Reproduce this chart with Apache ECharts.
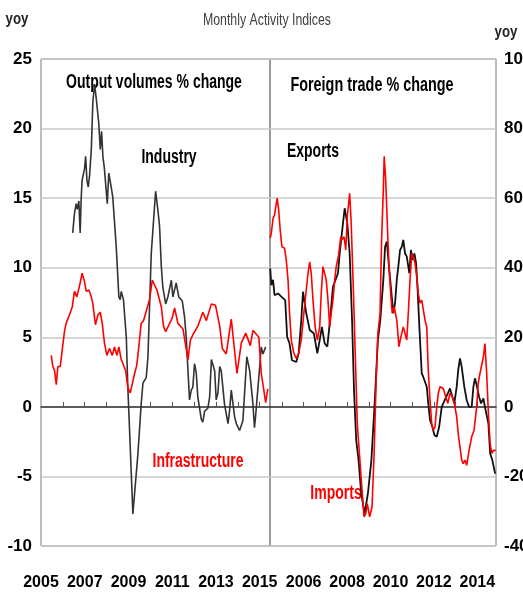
<!DOCTYPE html>
<html>
<head>
<meta charset="utf-8">
<script src="https://cdn.jsdelivr.net/npm/echarts@6/dist/echarts.min.js"></script>
<style>
  html, body { margin: 0; padding: 0; background: #fff; }
  #chart { width: 523px; height: 593px; }
</style>
</head>
<body>
<div id="chart"></div>
<script>
// Monthly activity indices: output volumes (left panel) and foreign trade (right panel), % yoy

// left panel - industry
const industryDates = [
  2006.45, 2006.53, 2006.61, 2006.66, 2006.73, 2006.79, 2006.84, 2006.88, 2006.99, 2007.04,
  2007.10, 2007.16, 2007.22, 2007.30, 2007.37, 2007.45, 2007.53, 2007.64, 2007.71, 2007.77,
  2007.83, 2007.90, 2007.95, 2008.03, 2008.10, 2008.21, 2008.28, 2008.44, 2008.56, 2008.62,
  2008.67, 2008.77, 2008.90, 2008.97, 2009.05, 2009.20, 2009.43, 2009.58, 2009.66, 2009.81,
  2009.89, 2010.04, 2010.24, 2010.34, 2010.42, 2010.50, 2010.57, 2010.70, 2010.80, 2010.96,
  2011.03, 2011.18, 2011.30, 2011.46, 2011.56, 2011.64, 2011.72, 2011.79, 2011.87, 2011.94,
  2012.02, 2012.10, 2012.17, 2012.33, 2012.40, 2012.48, 2012.63, 2012.71, 2012.79, 2012.94,
  2013.01, 2013.09, 2013.17, 2013.24, 2013.39, 2013.55, 2013.62, 2013.70, 2013.85, 2013.93,
  2014.08, 2014.16, 2014.23, 2014.41, 2014.54, 2014.69, 2014.76, 2014.81, 2014.92, 2015.00,
  2015.07, 2015.15, 2015.27
];
const industryValues = [
  12.5, 13.9, 14.6, 14.2, 14.8, 12.5, 15.1, 16.3, 17.1, 18.0,
  16.3, 15.8, 16.6, 18.5, 21.9, 23.2, 22.1, 20.4, 18.5, 19.8,
  18.0, 17.1, 17.0, 14.6, 16.8, 15.8, 15.1, 11.5, 7.9, 7.7,
  8.3, 7.7, 5.0, 1.4, -1.7, -7.7, -3.4, 0.2, 1.7, 2.1,
  3.6, 11.0, 15.5, 14.2, 13.0, 10.1, 8.6, 7.4, 7.9, 9.1,
  7.9, 8.9, 7.9, 7.6, 6.5, 5.0, 2.6, 0.5, 1.2, 1.4,
  3.1, 2.4, 0.7, -0.9, -1.1, -0.3, -0.1, 0.7, 3.4, 2.6,
  0.5, 1.0, 2.9, 2.6, 0.2, -1.2, -0.3, 1.2, -0.7, -1.2,
  -1.7, -1.7, -1.0, 3.6, 2.6, 0.2, -1.5, -0.7, 1.4, 2.9,
  4.3, 3.8, 4.3
];

// left panel - infrastructure
const infraDates = [
  2005.47, 2005.54, 2005.62, 2005.70, 2005.77, 2005.88, 2005.97, 2006.08, 2006.15, 2006.30,
  2006.43, 2006.53, 2006.64, 2006.73, 2006.79, 2006.88, 2006.99, 2007.07, 2007.19, 2007.30,
  2007.37, 2007.49, 2007.60, 2007.71, 2007.80, 2007.90, 2008.01, 2008.13, 2008.26, 2008.36,
  2008.47, 2008.56, 2008.67, 2008.87, 2008.97, 2009.08, 2009.28, 2009.38, 2009.47, 2009.58,
  2009.69, 2009.96, 2010.09, 2010.30, 2010.50, 2010.60, 2010.70, 2011.00, 2011.11, 2011.26,
  2011.49, 2011.72, 2011.83, 2011.95, 2012.17, 2012.40, 2012.56, 2012.79, 2012.98, 2013.17,
  2013.29, 2013.47, 2013.70, 2013.96, 2014.16, 2014.36, 2014.57, 2014.69, 2014.96, 2015.07,
  2015.18, 2015.27, 2015.37
];
const infraValues = [
  3.7, 2.9, 2.6, 1.6, 2.9, 2.9, 4.1, 5.5, 6.0, 6.6,
  7.2, 8.3, 7.9, 8.5, 8.9, 9.6, 9.0, 8.3, 8.4, 7.9,
  7.4, 5.9, 6.6, 6.8, 6.0, 4.6, 3.7, 4.2, 3.7, 4.3,
  3.7, 4.3, 3.4, 2.6, 1.4, 1.0, 2.4, 3.0, 4.3, 6.0,
  6.2, 7.7, 9.1, 8.4, 7.2, 5.8, 5.4, 6.4, 7.1, 6.0,
  5.6, 3.4, 4.8, 5.2, 5.8, 6.8, 6.2, 7.4, 7.3, 5.8,
  4.2, 3.8, 6.3, 2.4, 4.6, 5.3, 4.4, 5.5, 5.0, 2.4,
  1.3, 0.3, 1.3
];

// right panel - exports
const exportDates = [
  2004.46, 2004.51, 2004.59, 2004.66, 2004.82, 2004.97, 2005.15, 2005.24, 2005.35, 2005.46,
  2005.66, 2005.77, 2005.89, 2005.97, 2006.12, 2006.28, 2006.47, 2006.63, 2006.74, 2006.84,
  2006.97, 2007.09, 2007.20, 2007.35, 2007.58, 2007.66, 2007.76, 2007.89, 2008.01, 2008.12,
  2008.23, 2008.32, 2008.42, 2008.53, 2008.65, 2008.81, 2008.96, 2009.12, 2009.27, 2009.42,
  2009.53, 2009.67, 2009.75, 2009.83, 2009.93, 2010.06, 2010.13, 2010.21, 2010.29, 2010.36,
  2010.44, 2010.52, 2010.59, 2010.67, 2010.75, 2010.87, 2010.94, 2011.02, 2011.10, 2011.18,
  2011.25, 2011.33, 2011.44, 2011.51, 2011.67, 2011.74, 2011.82, 2011.93, 2012.02, 2012.13,
  2012.24, 2012.36, 2012.43, 2012.64, 2012.74, 2012.85, 2012.94, 2013.05, 2013.12, 2013.20,
  2013.28, 2013.40, 2013.51, 2013.62, 2013.74, 2013.82, 2013.89, 2013.97, 2014.08, 2014.17,
  2014.28, 2014.35, 2014.43, 2014.51, 2014.59, 2014.69, 2014.82
];
const exportValues = [
  39.8, 35.0, 36.5, 32.1, 32.6, 31.7, 30.7, 20.1, 18.2, 13.4,
  12.9, 15.4, 24.9, 33.1, 26.9, 22.1, 21.1, 15.4, 19.2, 23.0,
  18.2, 17.3, 24.0, 34.5, 38.4, 44.1, 49.9, 57.1, 52.8, 44.1,
  24.9, 4.8, -9.6, -15.3, -24.9, -30.7, -24.9, -15.3, 1.0, 19.2,
  24.9, 36.5, 46.0, 47.5, 40.3, 31.7, 26.9, 29.8, 36.5, 40.3,
  45.1, 46.0, 48.0, 44.1, 43.2, 38.4, 45.1, 42.2, 44.1, 41.3,
  33.6, 23.0, 9.6, 8.6, 5.8, 1.0, -3.8, -5.8, -8.1, -8.6,
  -5.8, 0.0, 1.0, 3.9, 5.3, 2.9, 1.0, 5.8, 10.6, 13.9,
  11.5, 5.8, 1.9, 0.0, 0.0, 5.8, 8.2, 6.2, 2.9, 1.0,
  2.4, 0.0, 0.0, -4.8, -13.4, -15.3, -19.2
];

// right panel - imports
const importDates = [
  2004.46, 2004.51, 2004.59, 2004.66, 2004.74, 2004.78, 2004.85, 2004.92, 2005.00, 2005.12,
  2005.20, 2005.28, 2005.35, 2005.43, 2005.55, 2005.66, 2005.77, 2005.89, 2006.01, 2006.12,
  2006.20, 2006.28, 2006.35, 2006.43, 2006.53, 2006.63, 2006.74, 2006.81, 2006.89, 2006.97,
  2007.04, 2007.12, 2007.20, 2007.27, 2007.35, 2007.43, 2007.50, 2007.61, 2007.71, 2007.76,
  2007.86, 2007.94, 2008.01, 2008.12, 2008.19, 2008.29, 2008.38, 2008.47, 2008.58, 2008.69,
  2008.78, 2008.86, 2008.93, 2009.04, 2009.15, 2009.24, 2009.35, 2009.42, 2009.52, 2009.59,
  2009.67, 2009.71, 2009.78, 2009.87, 2009.93, 2010.02, 2010.08, 2010.17, 2010.29, 2010.39,
  2010.48, 2010.59, 2010.75, 2010.82, 2010.90, 2010.98, 2011.05, 2011.13, 2011.21, 2011.28,
  2011.36, 2011.44, 2011.59, 2011.67, 2011.74, 2011.82, 2011.90, 2011.97, 2012.05, 2012.13,
  2012.20, 2012.28, 2012.36, 2012.43, 2012.64, 2012.74, 2012.85, 2012.94, 2013.05, 2013.12,
  2013.20, 2013.28, 2013.35, 2013.43, 2013.51, 2013.62, 2013.74, 2013.85, 2013.97, 2014.04,
  2014.12, 2014.20, 2014.28, 2014.35, 2014.43, 2014.51, 2014.59, 2014.67, 2014.74, 2014.85
];
const importValues = [
  48.5, 49.9, 54.2, 55.2, 58.5, 60.0, 56.6, 50.8, 46.0, 45.6,
  42.2, 36.5, 26.9, 19.2, 15.4, 13.9, 15.4, 19.2, 26.9, 33.6,
  38.4, 41.7, 38.4, 30.7, 23.0, 19.2, 23.0, 32.6, 40.3, 39.8,
  36.5, 30.7, 23.0, 26.9, 30.7, 36.5, 40.3, 43.7, 48.9, 48.0,
  48.9, 45.1, 54.8, 61.4, 52.8, 33.6, 14.4, -4.8, -14.4, -24.0,
  -31.6, -30.7, -27.8, -31.6, -28.8, -14.4, 9.6, 21.1, 26.9, 48.0,
  62.4, 72.0, 65.2, 49.9, 40.3, 31.7, 26.9, 28.8, 24.9, 17.3,
  20.1, 23.0, 19.2, 26.9, 36.5, 44.1, 43.2, 41.3, 37.4, 32.6,
  29.8, 30.7, 24.9, 23.0, 10.6, 1.9, -4.8, -6.7, -5.8, 0.0,
  3.9, 5.8, 6.2, 5.3, 1.0, 3.9, 2.9, 1.0, -2.9, -7.7,
  -11.5, -15.3, -16.3, -15.3, -16.8, -12.5, -8.6, -6.7, 0.0, 6.7,
  9.6, 10.1, 14.4, 18.2, 9.6, -1.9, -10.6, -13.4, -12.5, -12.5
];

// axis ticks and labels
const leftTickYears = [2006, 2007, 2008, 2009, 2010, 2011, 2012, 2013, 2014, 2015];
const leftLabelYears = [2005, 2007, 2009, 2011, 2013, 2015];
const rightTickYears = [2005, 2006, 2007, 2008, 2009, 2010, 2011, 2012, 2013, 2014];
const rightLabelYears = [2006, 2008, 2010, 2012, 2014];

const FONT = '"Liberation Sans", Arial, sans-serif';

function zip(xs, ys) {
  return xs.map((x, i) => [x, ys[i]]);
}

const chart = echarts.init(document.getElementById('chart'), null, { renderer: 'canvas' });

function tickAxis(grid, min, max, ticks) {
  return {
    gridIndex: grid, type: 'value', min: min, max: max,
    axisLine: { onZero: true, lineStyle: { color: '#333', width: 1.5 } },
    axisTick: { inside: true, length: 5, customValues: ticks, lineStyle: { color: '#555' } },
    axisLabel: { show: false },
    splitLine: { show: false }
  };
}
function labelAxis(grid, min, max, labels) {
  return {
    gridIndex: grid, type: 'value', min: min, max: max, position: 'bottom',
    axisLine: { show: false, onZero: false },
    axisTick: { show: false },
    axisLabel: {
      customValues: labels, margin: 29, color: '#000',
      showMinLabel: true, showMaxLabel: true, hideOverlap: false,
      formatter: (v) => String(v),
      fontWeight: 'bold', fontSize: 16, fontFamily: FONT
    },
    splitLine: { show: false }
  };
}
function valueAxis(grid, pos, min, max, step, margin) {
  return {
    gridIndex: grid, type: 'value', position: pos, min: min, max: max, interval: step,
    axisLine: { show: false }, axisTick: { show: false },
    axisLabel: { margin: margin, color: '#000', fontWeight: 'bold', fontSize: 17, fontFamily: FONT },
    splitLine: { lineStyle: { color: '#c8c8c8', width: 1.5 } }
  };
}
// texts in the original are set in a tall narrow face, so squeeze them horizontally
function label(text, x, y, color, font, sx) {
  return {
    type: 'text', x: x, y: y, scaleX: sx, silent: true,
    style: {
      text: text, fill: color, font: font,
      align: 'center', verticalAlign: 'middle',
      textAlign: 'center', textVerticalAlign: 'middle'
    }
  };
}

const boldFont = 'bold 20px ' + FONT;

chart.setOption({
  animation: false,
  backgroundColor: '#fff',
  grid: [
    { left: 41, top: 59, width: 229, height: 487, outerBoundsMode: 'none',
      show: true, borderColor: '#7a7a7a', borderWidth: 1 },
    { left: 270, top: 59, width: 226, height: 487, outerBoundsMode: 'none',
      show: true, borderColor: '#7a7a7a', borderWidth: 1 }
  ],
  xAxis: [
    tickAxis(0, 2005, 2015.47, leftTickYears),
    labelAxis(0, 2005, 2015.47, leftLabelYears),
    tickAxis(1, 2004.45, 2014.86, rightTickYears),
    labelAxis(1, 2004.45, 2014.86, rightLabelYears)
  ],
  yAxis: [
    valueAxis(0, 'left', -10, 25, 5, 9),
    valueAxis(1, 'right', -40, 100, 20, 8)
  ],
  graphic: [
    label('Monthly Activity Indices', 267, 21, '#404040', '16px ' + FONT, 0.77),
    label('yoy', 17, 19, '#222', 'bold 17px ' + FONT, 0.78),
    label('yoy', 506, 32, '#222', 'bold 17px ' + FONT, 0.78),
    label('Output volumes % change', 154, 82, '#000', boldFont, 0.70),
    label('Foreign trade % change', 372, 85, '#000', boldFont, 0.72),
    label('Industry', 169, 157, '#000', boldFont, 0.70),
    label('Exports', 313, 151, '#000', boldFont, 0.70),
    label('Infrastructure', 198, 461, '#ff0000', boldFont, 0.70),
    label('Imports', 336, 493, '#ff0000', boldFont, 0.70)
  ],
  series: [
    {
      name: 'Industry', type: 'line', xAxisIndex: 0, yAxisIndex: 0,
      data: zip(industryDates, industryValues), showSymbol: false,
      lineStyle: { color: '#333', width: 1.6 }
    },
    {
      name: 'Infrastructure', type: 'line', xAxisIndex: 0, yAxisIndex: 0,
      data: zip(infraDates, infraValues), showSymbol: false,
      lineStyle: { color: '#ff0000', width: 1.6 }
    },
    {
      name: 'Exports', type: 'line', xAxisIndex: 2, yAxisIndex: 1,
      data: zip(exportDates, exportValues), showSymbol: false,
      lineStyle: { color: '#111', width: 1.8 }
    },
    {
      name: 'Imports', type: 'line', xAxisIndex: 2, yAxisIndex: 1,
      data: zip(importDates, importValues), showSymbol: false,
      lineStyle: { color: '#ff0000', width: 1.6 }
    }
  ]
});

window.addEventListener('resize', () => chart.resize());
</script>
</body>
</html>
